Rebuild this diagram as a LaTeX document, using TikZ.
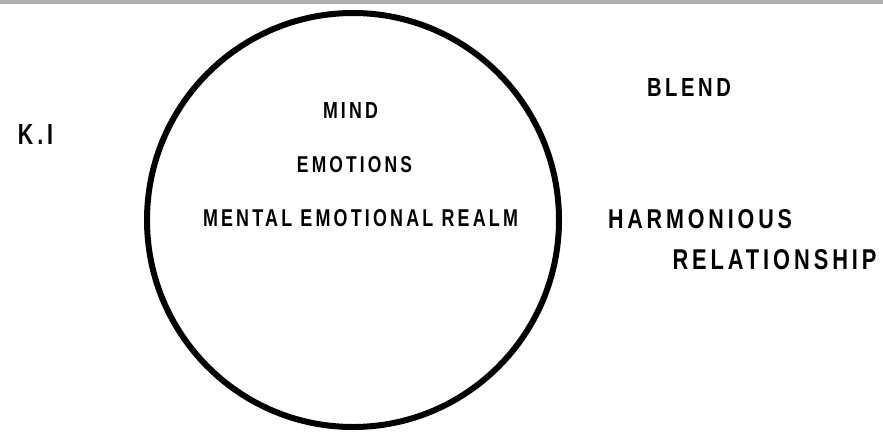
\documentclass[tikz,border=0pt]{standalone}
\usepackage{fontspec}
\usepackage{graphicx}
\newfontfamily\labfont[LetterSpace=18]{Liberation Sans Bold}
\begin{document}
\begin{tikzpicture}[x=1pt,y=-1pt,
  lab/.style={inner sep=0pt,anchor=center,text=black}]
\useasboundingbox (0,0) rectangle (883,434);
\fill[fill=white] (0,0) rectangle (883,434);
\fill[fill=black!31] (0,0) rectangle (883,4);
\coordinate (c) at (353,220);
\draw[line width=6pt,black] (c) ellipse [x radius=206, y radius=207];
\newcommand{\lbl}[3]{\resizebox{#1pt}{#2pt}{\labfont #3}}
\node[lab] (ki) at (35.5,134) {\lbl{35}{20}{K.I}};
\node[lab] (mind) at (350.5,110) {\lbl{55}{16}{MIND}};
\node[lab] (emo) at (354.5,164.5) {\lbl{115}{16}{EMOTIONS}};
\node[lab] (realm) at (360.5,218) {\lbl{315}{17}{MENTAL EMOTIONAL REALM}};
\node[lab] (blend) at (689,87) {\lbl{84}{18}{BLEND}};
\node[lab] (harm) at (700,219) {\lbl{184}{19}{HARMONIOUS}};
\node[lab] (rel) at (774.5,259.5) {\lbl{204}{20}{RELATIONSHIP}};
\end{tikzpicture}
\end{document}
